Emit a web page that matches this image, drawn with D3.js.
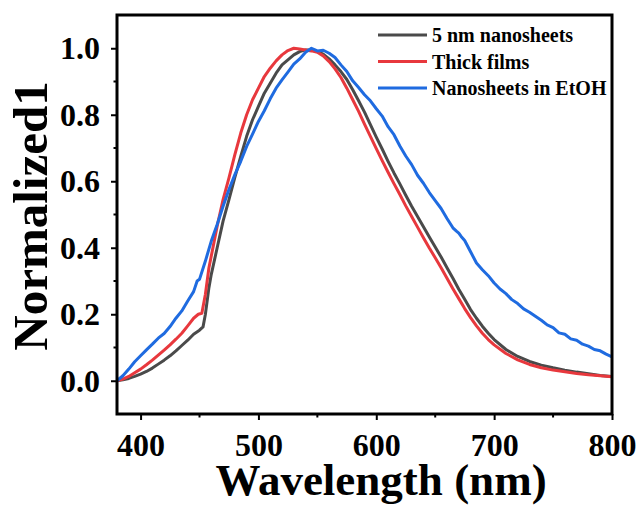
<!DOCTYPE html>
<html>
<head>
<meta charset="utf-8">
<script src="https://cdn.jsdelivr.net/npm/d3@7"></script>
<style>
  body { margin: 0; background: #fff; overflow: hidden; }
  svg { display: block; }
</style>
</head>
<body>
<div id="plot"></div>
<script>
// Data
const seriesNames = ["5 nm nanosheets", "Thick films", "Nanosheets in EtOH"];
const seriesColors = ["#4a4a4a", "#e8383d", "#1f6be0"];

const blackWl = [380,385,390,395,400,405,410,415,420,425,430,435,440,445,450,453,455,458,460,465,470,475,480,485,490,495,500,505,510,515,520,525,530,535,540,545,550,555,560,565,570,575,580,585,590,595,600,605,610,615,620,625,630,635,640,645,650,655,660,665,670,675,680,685,690,695,700,710,720,730,740,750,760,770,780,790,800];
const blackVal = [0.000,0.003,0.007,0.013,0.020,0.028,0.038,0.050,0.062,0.075,0.090,0.106,0.122,0.140,0.152,0.162,0.200,0.280,0.320,0.400,0.480,0.545,0.612,0.675,0.735,0.785,0.825,0.865,0.895,0.925,0.950,0.965,0.980,0.990,0.995,0.995,0.990,0.982,0.968,0.950,0.930,0.906,0.875,0.842,0.808,0.770,0.733,0.697,0.660,0.625,0.592,0.558,0.525,0.494,0.463,0.432,0.402,0.372,0.340,0.308,0.275,0.245,0.214,0.188,0.164,0.143,0.124,0.094,0.073,0.058,0.047,0.039,0.032,0.026,0.021,0.016,0.013];

const redWl = [380,385,390,395,400,405,410,415,420,425,430,435,440,445,449,452,455,458,460,465,470,475,480,485,490,495,500,505,510,515,520,525,530,535,540,545,550,555,560,565,570,575,580,585,590,595,600,605,610,615,620,625,630,635,640,645,650,655,660,665,670,675,680,685,690,695,700,710,720,730,740,750,760,770,780,790,800];
const redVal = [0.000,0.005,0.013,0.024,0.035,0.048,0.062,0.077,0.092,0.108,0.125,0.143,0.165,0.188,0.200,0.203,0.260,0.340,0.375,0.465,0.545,0.610,0.680,0.745,0.800,0.845,0.880,0.915,0.940,0.962,0.980,0.993,1.000,0.998,0.995,0.992,0.988,0.977,0.960,0.938,0.912,0.880,0.845,0.810,0.772,0.735,0.698,0.662,0.627,0.593,0.560,0.526,0.494,0.462,0.430,0.399,0.370,0.340,0.308,0.277,0.247,0.217,0.190,0.165,0.143,0.124,0.108,0.082,0.063,0.049,0.039,0.032,0.027,0.022,0.018,0.015,0.012];

const blueWl = [380,385,390,395,400,405,410,415,420,425,430,435,440,445,448,450,455,460,465,470,475,480,485,490,495,500,505,510,515,520,525,530,535,540,545,550,555,560,565,570,575,580,585,590,595,600,605,610,615,620,625,630,635,640,645,650,655,660,665,668,670,672,675,680,685,690,695,700,705,710,715,720,725,730,735,740,745,750,755,760,765,770,775,780,785,790,795,800];
const blueVal = [0.000,0.015,0.035,0.057,0.075,0.093,0.110,0.128,0.142,0.163,0.188,0.210,0.240,0.268,0.300,0.305,0.360,0.420,0.470,0.525,0.575,0.620,0.660,0.705,0.742,0.780,0.812,0.848,0.880,0.905,0.928,0.952,0.968,0.988,1.000,0.992,0.994,0.985,0.972,0.950,0.930,0.902,0.882,0.860,0.842,0.818,0.796,0.764,0.740,0.706,0.676,0.650,0.618,0.594,0.566,0.542,0.518,0.488,0.460,0.450,0.444,0.434,0.422,0.388,0.354,0.334,0.316,0.294,0.276,0.262,0.244,0.232,0.216,0.206,0.194,0.182,0.168,0.160,0.144,0.140,0.126,0.122,0.110,0.104,0.094,0.090,0.080,0.072];

const xTicks = [400, 500, 600, 700, 800];
const xMinor = [450, 550, 650, 750];
const yTicks = [0.0, 0.2, 0.4, 0.6, 0.8, 1.0];
const yMinor = [0.1, 0.3, 0.5, 0.7, 0.9];

const serif = "Liberation Serif, Times New Roman, DejaVu Serif, serif";

const svg_w = 642;
const svg_h = 514;
const margin = {top: 15, right: 30, bottom: 100, left: 117};
const innerWidth = svg_w - margin.left - margin.right;
const innerHeight = svg_h - margin.top - margin.bottom;

const svg = d3.select("div#plot")
  .append("svg")
    .attr("width", svg_w)
    .attr("height", svg_h)
    .attr("font-family", serif)
    .attr("font-weight", "bold");

const g = svg.append("g")
    .attr("transform", `translate(${margin.left}, ${margin.top})`);

const xScale = d3.scaleLinear().domain([380, 800]).range([0, innerWidth]);
const yScale = d3.scaleLinear().domain([-0.1, 1.1]).range([innerHeight, 0]);

const series = [
  {name: seriesNames[0], color: seriesColors[0], wl: blackWl, val: blackVal},
  {name: seriesNames[1], color: seriesColors[1], wl: redWl, val: redVal},
  {name: seriesNames[2], color: seriesColors[2], wl: blueWl, val: blueVal}
];

const line = d3.line()
    .x(d => xScale(d[0]))
    .y(d => yScale(d[1]));

g.selectAll("path.curve")
  .data(series)
  .enter()
  .append("path")
    .attr("class", "curve")
    .attr("fill", "none")
    .attr("stroke", d => d.color)
    .attr("stroke-width", 3)
    .attr("stroke-linejoin", "round")
    .attr("d", d => line(d.wl.map((w, i) => [w, d.val[i]])));

// Axes (outward ticks)
const xAxis = d3.axisBottom(xScale)
    .tickValues(xTicks)
    .tickSize(6)
    .tickPadding(13)
    .tickSizeOuter(0);

const yAxis = d3.axisLeft(yScale)
    .tickValues(yTicks)
    .tickFormat(d3.format(".1f"))
    .tickSize(6)
    .tickPadding(11)
    .tickSizeOuter(0);

const gx = g.append("g")
    .attr("transform", `translate(0, ${innerHeight})`)
    .call(xAxis);
gx.append("g").selectAll("line")
  .data(xMinor)
  .enter()
  .append("line")
    .attr("x1", d => xScale(d))
    .attr("x2", d => xScale(d))
    .attr("y1", 0)
    .attr("y2", 3.5)
    .attr("stroke", "#000")
    .attr("stroke-width", 2);

const gy = g.append("g")
    .call(yAxis);
gy.append("g").selectAll("line")
  .data(yMinor)
  .enter()
  .append("line")
    .attr("x1", 0)
    .attr("x2", -3.5)
    .attr("y1", d => yScale(d))
    .attr("y2", d => yScale(d))
    .attr("stroke", "#000")
    .attr("stroke-width", 2);

[gx, gy].forEach(a => {
  a.attr("font-family", serif).attr("font-size", 32).attr("font-weight", "bold");
  a.select(".domain").remove();
  a.selectAll(".tick line").attr("stroke", "#000").attr("stroke-width", 2);
  a.selectAll(".tick text").attr("fill", "#000");
});

// Frame
g.append("rect")
    .attr("x", 0)
    .attr("y", 0)
    .attr("width", innerWidth)
    .attr("height", innerHeight)
    .attr("fill", "none")
    .attr("stroke", "#000")
    .attr("stroke-width", 3);

// Axis titles
svg.append("text")
    .attr("text-anchor", "middle")
    .attr("x", 381)
    .attr("y", 495)
    .attr("font-size", 45)
    .text("Wavelength (nm)");

svg.append("text")
    .attr("text-anchor", "middle")
    .attr("transform", "translate(47, 216) rotate(-90)")
    .attr("font-size", 49)
    .text("Normalized1");

// Legend
const legend = svg.append("g")
    .attr("transform", "translate(378, 35)");

const rows = legend.selectAll("g")
  .data(series)
  .enter()
  .append("g")
    .attr("transform", (d, i) => `translate(0, ${i * 26.5})`);

rows.append("line")
    .attr("x1", 0)
    .attr("x2", 49)
    .attr("y1", 0)
    .attr("y2", 0)
    .attr("stroke", d => d.color)
    .attr("stroke-width", 3);

rows.append("text")
    .attr("x", 54)
    .attr("y", 7)
    .attr("font-size", 20)
    .text(d => d.name);
</script>
</body>
</html>
